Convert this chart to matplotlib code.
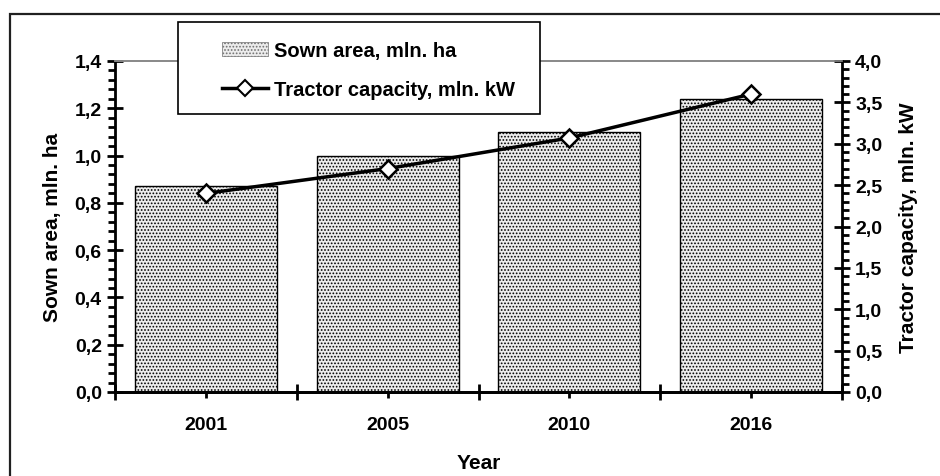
import numpy as np
import matplotlib.pyplot as plt
from matplotlib.patches import Rectangle, Patch
from matplotlib.lines import Line2D
from matplotlib.ticker import MultipleLocator, FixedLocator, FuncFormatter

# data
years = ['2001', '2005', '2010', '2016']
sown_area = [0.87, 1.00, 1.10, 1.24]          # mln. ha
tractor_capacity = [2.40, 2.70, 3.07, 3.60]   # mln. kW

plt.rcParams['font.family'] = ['Liberation Sans', 'DejaVu Sans']
plt.rcParams['font.weight'] = 'bold'
plt.rcParams['hatch.linewidth'] = 0.8
plt.rcParams['hatch.color'] = '#858585'

W, H = 940, 477
fig = plt.figure(figsize=(W / 100, H / 100), dpi=100)

# outer frame (runs off the right and bottom of the picture)
fig.patches.append(Rectangle((10 / W, -0.1), 1.0, 1 - 15 / H + 0.1,
                             transform=fig.transFigure, fill=False,
                             edgecolor='#202020', linewidth=1.6))

ax = fig.add_axes([115 / W, 1 - 393 / H, (842 - 115) / W, (393 - 62) / H])
x = np.arange(len(years))

ax.bar(x, sown_area, width=0.78, facecolor='#ececec', edgecolor='black',
       linewidth=1.0, hatch='.....', zorder=2)
ax.set_xlim(-0.5, len(years) - 0.5)
ax.set_ylim(0, 1.4)

ax2 = ax.twinx()
ax2.plot(x, tractor_capacity, color='black', linewidth=2.5, marker='D',
         markersize=9, markerfacecolor='white', markeredgecolor='black',
         markeredgewidth=1.8, zorder=3)
ax2.set_ylim(0, 4.0)

comma = FuncFormatter(lambda v, p: f'{v:.1f}'.replace('.', ','))

for a in (ax, ax2):
    a.spines['top'].set_color('#888888')
    a.spines['top'].set_linewidth(1.2)
    for s in ('left', 'right', 'bottom'):
        a.spines[s].set_linewidth(2.0)

ax.spines['right'].set_visible(False)
ax2.spines['left'].set_visible(False)

ax.yaxis.set_major_locator(MultipleLocator(0.2))
ax.yaxis.set_minor_locator(MultipleLocator(0.04))
ax.yaxis.set_major_formatter(comma)
ax.tick_params(axis='y', which='major', direction='inout', length=12, width=2, labelsize=14)
ax.tick_params(axis='y', which='minor', direction='out', length=5, width=2)

ax2.yaxis.set_major_locator(MultipleLocator(0.5))
ax2.yaxis.set_minor_locator(MultipleLocator(0.1))
ax2.yaxis.set_major_formatter(comma)
ax2.tick_params(axis='y', which='major', direction='inout', length=12, width=2, labelsize=14)
ax2.tick_params(axis='y', which='minor', direction='out', length=5, width=2)

# x: boundary ticks crossing the axis, small ticks at the category centres
ax.xaxis.set_major_locator(FixedLocator(x))
ax.set_xticklabels(years)
ax.xaxis.set_minor_locator(FixedLocator(np.arange(-0.5, len(years), 1.0)))
ax.tick_params(axis='x', which='major', direction='out', length=4, width=2,
               labelsize=14, pad=13)
ax.tick_params(axis='x', which='minor', direction='inout', length=12, width=2)

ax.set_xlabel('Year', fontsize=15, fontweight='bold', labelpad=15)
ax.set_ylabel('Sown area, mln. ha', fontsize=15, fontweight='bold', labelpad=9)
ax2.set_ylabel('Tractor capacity, mln. kW', fontsize=15, fontweight='bold', labelpad=12)

# legend box
fig.patches.append(Rectangle((178 / W, 1 - 115 / H), (540 - 178) / W, (115 - 23) / H,
                             transform=fig.transFigure, facecolor='white',
                             edgecolor='black', linewidth=1.2, zorder=5))
handles = [Patch(facecolor='#ececec', edgecolor='#707070', hatch='.....', linewidth=0.5),
           Line2D([], [], color='black', linewidth=2.5, marker='D', markersize=8,
                  markerfacecolor='white', markeredgecolor='black', markeredgewidth=1.5)]
leg = fig.legend(handles, ['Sown area, mln. ha', 'Tractor capacity, mln. kW'],
                 loc='upper left', bbox_to_anchor=(204 / W, 1 - 24 / H),
                 frameon=False, fontsize=14.5, handlelength=2.3,
                 labelspacing=1.0, handletextpad=0.3)
leg.set_zorder(6)

fig.savefig('out.png', dpi=100)
